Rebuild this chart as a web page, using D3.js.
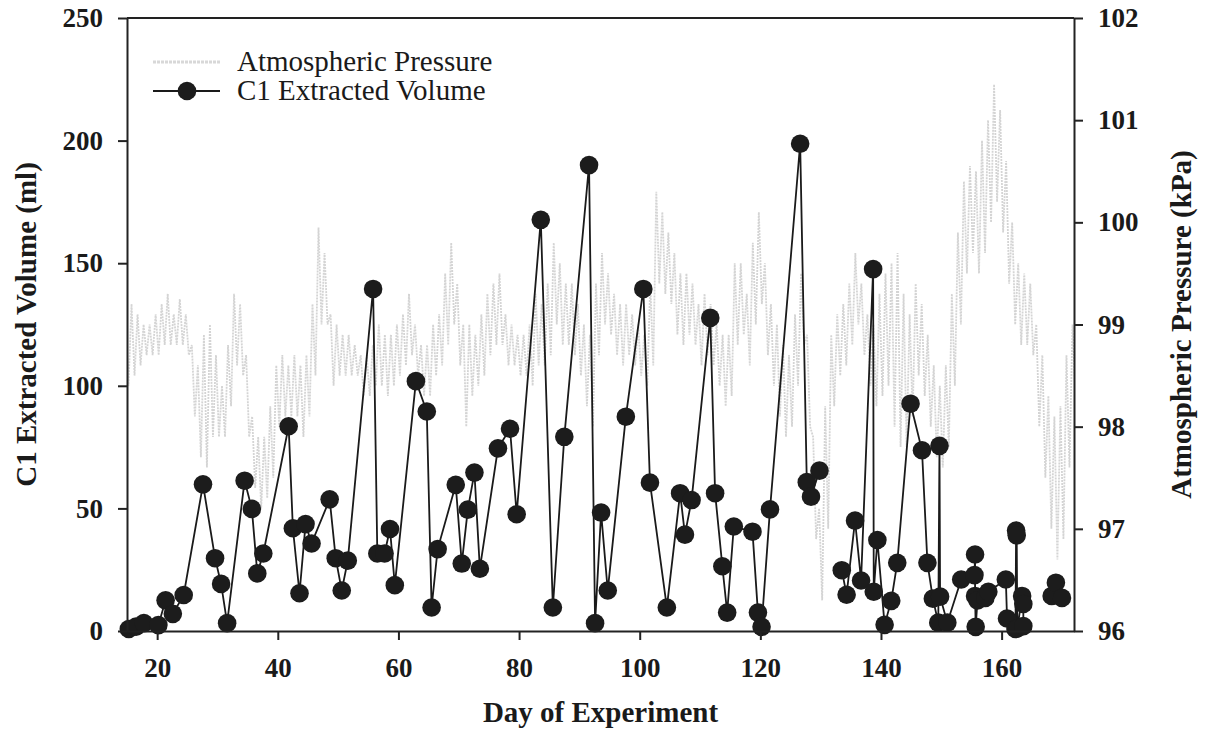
<!DOCTYPE html>
<html>
<head>
<meta charset="utf-8">
<script src="https://cdn.jsdelivr.net/npm/d3@7"></script>
<style>
  body { margin: 0; background: #fff; }
  text { font-family: "Liberation Serif", "Times New Roman", serif; fill: #1a1a1a; }
</style>
</head>
<body>
<script>
// C1 extracted volume (ml) by day of experiment
var c1Days = [15.3, 16.5, 17.8, 20.2, 21.4, 22.6, 24.4, 27.6, 29.6, 30.6,
  31.6, 34.5, 35.7, 36.6, 37.6, 41.8, 42.5, 43.6, 44.6, 45.6,
  48.6, 49.6, 50.6, 51.6, 55.8, 56.5, 57.7, 58.6, 59.4, 62.9,
  64.7, 65.5, 66.5, 69.5, 70.5, 71.5, 72.6, 73.5, 76.5, 78.5,
  79.6, 83.6, 85.6, 87.5, 91.6, 92.6, 93.6, 94.7, 97.7, 100.6,
  101.7, 104.5, 106.7, 107.5, 108.6, 111.7, 112.5, 113.7, 114.5, 115.6,
  118.7, 119.6, 120.2, 121.6, 126.6, 127.7, 128.4, 129.8,
  133.5, 134.3, 135.7, 136.7, 138.7, 138.8, 139.4, 140.6, 141.7, 142.7,
  144.9, 146.8, 147.7, 148.6, 149.5, 149.7, 149.8, 151.0, 153.3, 155.5,
  155.6, 155.6, 155.7, 156.0, 157.3, 157.8, 160.7, 160.9, 162.3, 162.4,
  162.5, 162.6, 163.4, 163.6, 163.6,
  168.3, 169.0, 170.0];
var c1Volume = [0.8, 1.8, 3.2, 2.4, 12.5, 7, 14.7, 59.8, 29.7, 19.2,
  3.2, 61.3, 49.8, 23.5, 31.6, 83.5, 41.9, 15.4, 43.6, 35.7,
  53.7, 29.7, 16.5, 28.7, 139.5, 31.6, 31.6, 41.6, 18.7, 101.9,
  89.5, 9.6, 33.4, 59.6, 27.5, 49.5, 64.6, 25.4, 74.5, 82.5,
  47.6, 167.7, 9.6, 79.2, 190, 3.2, 48.3, 16.5, 87.4, 139.5,
  60.5, 9.6, 56.2, 39.3, 53.4, 127.7, 56.2, 26.4, 7.5, 42.6,
  40.5, 7.5, 1.7, 49.6, 198.7, 60.7, 54.8, 65.4,
  24.8, 14.8, 45, 20.6, 147.6, 16, 37.1, 2.5, 12.3, 27.8,
  92.7, 73.7, 27.8, 13.2, 3.4, 75.5, 14, 3.4, 21, 22.8,
  31.2, 14.3, 1.7, 12.5, 13.5, 16, 21, 5.1, 0.8, 41,
  39, 1, 14.3, 11, 2,
  14.3, 19.7, 13.5];
// days where the volume record has a gap (line is not drawn across)
var c1Breaks = [131, 166];

// atmospheric pressure (kPa), daily high / low of the record
var pressureDays = d3.range(15, 173);
var pressureHigh = [99.0, 99.2, 99.1, 99.0, 99.0, 99.1, 99.2, 99.3, 99.1, 99.25,
  99.1, 98.8, 98.6, 98.9, 99.0, 98.7, 98.4, 98.8, 99.3, 99.2,
  98.7, 98.1, 97.9, 97.9, 98.2, 98.6, 98.7, 98.6, 98.7, 98.6,
  98.7, 99.2, 99.95, 99.7, 99.1, 99.0, 98.9, 98.9, 98.8, 98.7,
  98.7, 98.8, 99.0, 98.9, 98.9, 99.0, 99.1, 99.3, 99.0, 98.8,
  98.8, 99.0, 99.1, 99.5, 99.8, 99.4, 99.0, 99.0, 98.9, 99.1,
  99.3, 99.4, 99.5, 99.1, 99.0, 98.9, 98.9, 99.0, 99.3, 99.2,
  99.4, 99.8, 99.6, 99.4, 99.4, 99.2, 99.0, 98.9, 99.4, 99.7,
  99.5, 99.3, 99.2, 99.2, 99.1, 99.0, 98.9, 99.4, 100.3, 100.1,
  99.9, 99.7, 99.5, 99.5, 99.4, 99.2, 99.3, 99.2, 99.0, 98.9,
  98.9, 99.6, 99.6, 99.3, 99.8, 100.1, 99.6, 99.2, 99.0, 98.8,
  98.7, 99.1, 99.5, 98.9, 97.9, 97.2, 98.2, 98.9, 99.1, 99.2,
  99.4, 99.7, 99.4, 99.1, 99.0, 99.3, 99.5, 99.6, 99.7, 99.3,
  99.1, 99.4, 99.2, 98.9, 98.6, 98.4, 98.6, 99.3, 99.9, 100.4,
  100.55, 100.5, 100.8, 101.0, 101.35, 101.1, 100.6, 100.0, 99.6, 99.5,
  99.4, 99.0, 98.7, 98.3, 98.1, 98.2, 98.7, 99.0];
var pressureLow = [98.4, 98.5, 98.6, 98.7, 98.7, 98.7, 98.8, 98.8, 98.8, 98.8,
  98.7, 98.1, 97.7, 97.6, 97.9, 97.9, 97.9, 98.2, 98.6, 98.5,
  97.9, 97.4, 97.2, 97.3, 97.5, 98.0, 98.1, 98.1, 98.1, 97.9,
  98.1, 98.5, 99.0, 99.0, 98.4, 98.5, 98.5, 98.5, 98.5, 98.3,
  98.3, 98.4, 98.4, 98.3, 98.4, 98.5, 98.6, 98.7, 98.5, 98.3,
  98.3, 98.5, 98.6, 98.8, 99.0, 98.6, 98.0, 98.3, 98.4, 98.5,
  98.7, 98.8, 98.8, 98.6, 98.6, 98.5, 98.5, 98.4, 98.6, 98.6,
  98.7, 99.0, 98.8, 98.8, 98.7, 98.5, 98.2, 98.0, 98.7, 99.0,
  98.9, 98.7, 98.6, 98.7, 98.6, 98.5, 98.4, 98.6, 99.4, 99.3,
  99.2, 98.9, 98.8, 98.9, 98.8, 98.6, 98.7, 98.6, 98.4, 98.2,
  98.3, 98.8, 98.9, 98.6, 99.0, 99.2, 98.7, 98.4, 98.1, 97.9,
  98.0, 98.4, 98.8, 98.0, 96.9, 96.3, 97.0, 98.2, 98.5, 98.6,
  98.8, 99.0, 98.7, 98.4, 98.2, 98.3, 98.4, 98.0, 97.8, 97.8,
  98.1, 98.5, 98.3, 98.0, 97.7, 97.6, 97.8, 98.4, 99.0, 99.5,
  99.7, 99.5, 99.7, 100.0, 100.2, 99.9, 99.4, 99.0, 98.8, 98.8,
  98.7, 98.0, 97.5, 97.0, 96.7, 96.9, 97.6, 98.3];

var xTicks = [20, 40, 60, 80, 100, 120, 140, 160];
var volumeTicks = [0, 50, 100, 150, 200, 250];
var pressureTicks = [96, 97, 98, 99, 100, 101, 102];

(function() {
var width = 1212, height = 746;
var plotL = 127, plotR = 1074, plotT = 18, plotB = 631;

var svg = d3.select('body').append('svg')
    .attr('width', width)
    .attr('height', height);

var x = d3.scaleLinear().domain([15, 172]).range([plotL, plotR]);
var yVol = d3.scaleLinear().domain([0, 250]).range([plotB, plotT]);
var yPres = d3.scaleLinear().domain([96, 102]).range([plotB, plotT]);

svg.append('clipPath').attr('id', 'plot')
  .append('rect')
    .attr('x', plotL).attr('y', plotT)
    .attr('width', plotR - plotL).attr('height', plotB - plotT);

// pressure trace: zig-zag through each day's high and low
var presPts = [];
pressureDays.forEach(function(d, i) {
  presPts.push([d - 0.25, pressureHigh[i]]);
  presPts.push([d + 0.25, pressureLow[i]]);
});
var presLine = d3.line()
    .x(function(d) { return x(d[0]); })
    .y(function(d) { return yPres(d[1]); });
svg.append('path')
    .attr('clip-path', 'url(#plot)')
    .attr('d', presLine(presPts))
    .attr('fill', 'none')
    .attr('stroke', '#d4d4d4')
    .attr('stroke-width', 1.8)
    .attr('stroke-dasharray', '2 1');

// C1 volume, split at record gaps
var segs = [];
c1Days.forEach(function(d, i) {
  var s = c1Breaks.filter(function(b) { return b < d; }).length;
  (segs[s] = segs[s] || []).push([d, c1Volume[i]]);
});
var volLine = d3.line()
    .x(function(d) { return x(d[0]); })
    .y(function(d) { return yVol(d[1]); });
svg.selectAll('.seg').data(segs).enter().append('path')
    .attr('class', 'seg')
    .attr('d', volLine)
    .attr('fill', 'none')
    .attr('stroke', '#1a1a1a')
    .attr('stroke-width', 1.8);
svg.selectAll('.pt').data(c1Days).enter().append('circle')
    .attr('class', 'pt')
    .attr('cx', function(d) { return x(d); })
    .attr('cy', function(d, i) { return yVol(c1Volume[i]); })
    .attr('r', 9.3)
    .attr('fill', '#1c1c1c');

// axes
function styleAxis(g) {
  g.selectAll('path, line').attr('stroke', '#222').attr('stroke-width', 2);
  g.selectAll('text')
    .style('font-size', '27px')
    .style('font-weight', 'bold')
    .attr('fill', '#1a1a1a');
}

svg.append('g')
    .attr('transform', 'translate(0,' + plotB + ')')
    .call(d3.axisBottom(x).tickValues(xTicks).tickSize(9).tickSizeOuter(0).tickPadding(18))
    .call(styleAxis);
svg.append('g')
    .attr('transform', 'translate(' + plotL + ',0)')
    .call(d3.axisLeft(yVol).tickValues(volumeTicks).tickSize(9).tickSizeOuter(0).tickPadding(15))
    .call(styleAxis);
svg.append('g')
    .attr('transform', 'translate(' + plotR + ',0)')
    .call(d3.axisRight(yPres).tickValues(pressureTicks).tickFormat(d3.format('d'))
      .tickSize(9).tickSizeOuter(0).tickPadding(15))
    .call(styleAxis);
svg.append('line')
    .attr('x1', plotL).attr('x2', plotR)
    .attr('y1', plotT).attr('y2', plotT)
    .attr('stroke', '#222').attr('stroke-width', 2);

// axis titles
svg.append('text')
    .attr('x', (plotL + plotR) / 2).attr('y', 722)
    .attr('text-anchor', 'middle')
    .style('font-size', '29px').style('font-weight', 'bold')
    .text('Day of Experiment');
svg.append('text')
    .attr('transform', 'translate(36,' + (plotT + plotB) / 2 + ') rotate(-90)')
    .attr('text-anchor', 'middle')
    .style('font-size', '29px').style('font-weight', 'bold')
    .text('C1 Extracted Volume (ml)');
svg.append('text')
    .attr('transform', 'translate(1191,' + (plotT + plotB) / 2 + ') rotate(-90)')
    .attr('text-anchor', 'middle')
    .style('font-size', '29px').style('font-weight', 'bold')
    .text('Atmospheric Pressure (kPa)');

// legend
var lg = svg.append('g');
lg.append('line')
    .attr('x1', 153).attr('x2', 220).attr('y1', 62).attr('y2', 62)
    .attr('stroke', '#d8d8d8').attr('stroke-width', 3)
    .attr('stroke-dasharray', '3 1');
lg.append('text').attr('x', 237).attr('y', 71)
    .style('font-size', '29px').text('Atmospheric Pressure');
lg.append('line')
    .attr('x1', 153).attr('x2', 220).attr('y1', 91).attr('y2', 91)
    .attr('stroke', '#1a1a1a').attr('stroke-width', 1.8);
lg.append('circle').attr('cx', 187).attr('cy', 91).attr('r', 9.3).attr('fill', '#1c1c1c');
lg.append('text').attr('x', 237).attr('y', 100)
    .style('font-size', '29px').text('C1 Extracted Volume');
})();
</script>
</body>
</html>
